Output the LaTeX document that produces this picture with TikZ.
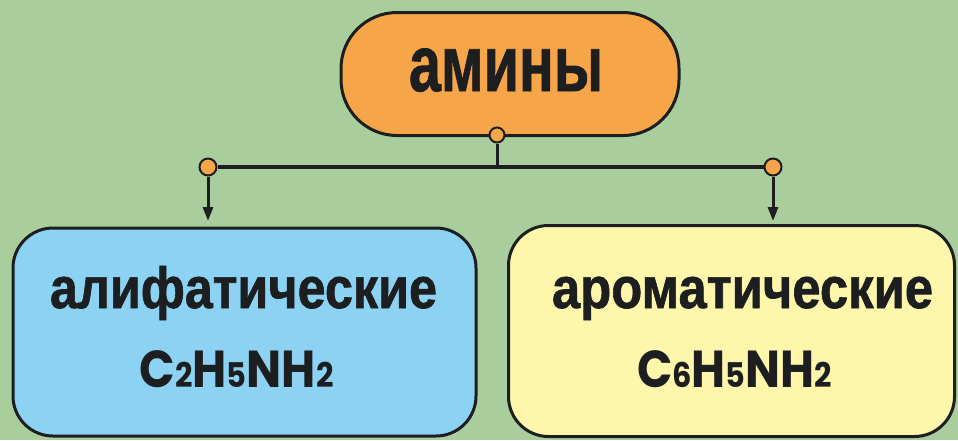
\documentclass[tikz,border=0pt]{standalone}
\usepackage{fontspec}
\usepackage{graphicx}
\usetikzlibrary{arrows.meta}
\setmainfont{Liberation Sans}[BoldFeatures={FakeBold=1.2}]
\newfontfamily\formfont{Poppins}

\definecolor{bggreen}{RGB}{169,205,156}
\definecolor{boxorange}{RGB}{246,165,72}
\definecolor{boxblue}{RGB}{140,211,243}
\definecolor{boxyellow}{RGB}{254,246,170}
\definecolor{ink}{RGB}{28,30,32}

% set a text at its natural height, squeezed horizontally to a given width
\newsavebox\fitbox
\newcommand\fitto[2]{\sbox\fitbox{#2}\pgfmathsetmacro\fitscale{#1/\the\wd\fitbox}\scalebox{\fitscale}[1]{\usebox\fitbox}}
\newcommand\lowdigit[1]{{\fontsize{34}{34}\selectfont #1}}

\tikzset{
  catbox/.style={draw=ink, line width=3pt, rounded corners=40pt, inner sep=0pt},
  joint/.style={circle, draw=ink, line width=2pt, fill=boxorange, minimum width=15pt, minimum height=15pt, inner sep=0pt},
  link/.style={draw=ink, line width=3pt},
  label/.style={anchor=base, inner sep=0pt, text=ink},
}

\begin{document}
\begin{tikzpicture}[x=1pt, y=-1pt]
  \fill[bggreen] (0,0) rectangle (958,440);
  \useasboundingbox (0,0) rectangle (958,440);

  % category boxes
  \node[catbox, fill=boxorange, rounded corners=56pt, minimum width=338pt, minimum height=123pt] (amines) at (510,74) {};
  \node[catbox, fill=boxblue, minimum width=463pt, minimum height=208pt] (aliph) at (244.5,332) {};
  \node[catbox, fill=boxyellow, minimum width=446pt, minimum height=211pt] (arom) at (731.5,331) {};

  % labels
  \node[label] (tamines) at (506,91) {\fontsize{79}{79}\selectfont\bfseries\fitto{194pt}{амины}};
  \node[label] (taliph) at (243.5,308) {\fontsize{58}{58}\selectfont\bfseries\fitto{387pt}{алифатические}};
  \node[label] (tarom) at (742.5,308) {\fontsize{58}{58}\selectfont\bfseries\fitto{381pt}{ароматические}};
  \node[label] (faliph) at (236.5,387) {\formfont\fontsize{52}{52}\selectfont\bfseries\fitto{194pt}{C\lowdigit{2}H\lowdigit{5}NH\lowdigit{2}}};
  \node[label] (farom) at (734.5,387) {\formfont\fontsize{52}{52}\selectfont\bfseries\fitto{195pt}{C\lowdigit{6}H\lowdigit{5}NH\lowdigit{2}}};

  % branching connector
  \node[joint] (jtop) at (497,135) {};
  \node[joint, minimum height=17pt] (jleft) at (208,167) {};
  \node[joint, minimum height=17pt] (jright) at (773,167) {};
  \coordinate (tipl) at (208,221);
  \coordinate (tipr) at (773,221);

  \draw[link] (jtop.south) -- (jtop.south |- jleft.center);
  \draw[link, line width=4pt] (jleft.east) -- (jright.west);
  \draw[link, -{Triangle[width=10pt,length=14pt]}] (jleft.south) -- (tipl);
  \draw[link, -{Triangle[width=10pt,length=14pt]}] (jright.south) -- (tipr);
\end{tikzpicture}
\end{document}
